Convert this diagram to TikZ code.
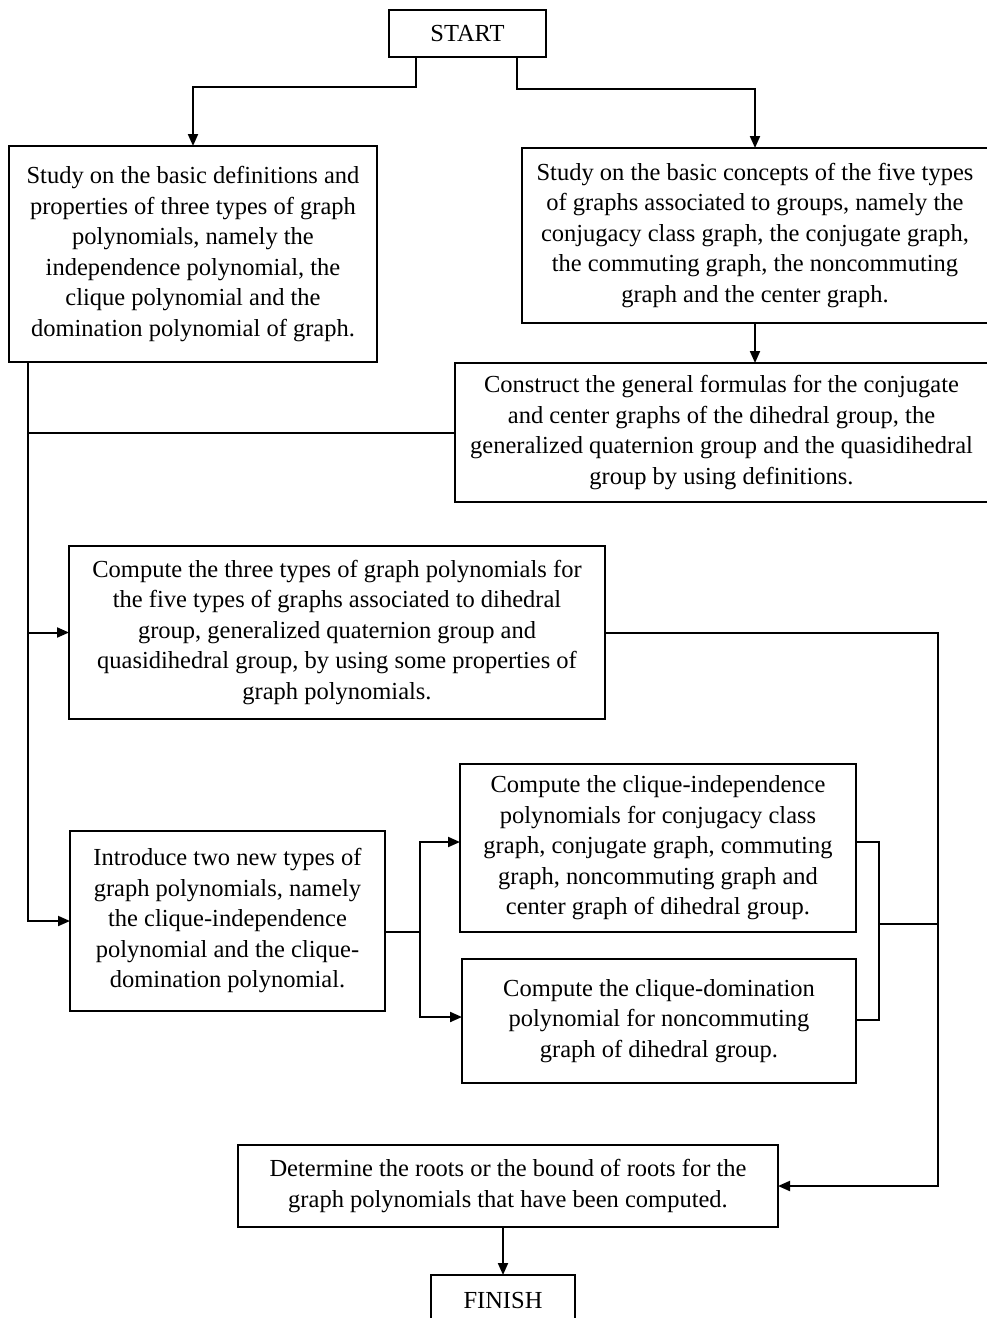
\documentclass[tikz,border=0pt]{standalone}
\usepackage{fontspec}
\setmainfont{Liberation Serif}
\usetikzlibrary{arrows.meta,calc}
\begin{document}
\begin{tikzpicture}[x=1pt,y=-1pt,
  line width=2pt,
  box/.style={draw,rectangle,inner sep=0pt,outer sep=0pt,align=center,
    font=\fontsize{24.5}{30.5}\selectfont},
  arr/.style={-{Triangle[length=12pt,width=10pt]}}]
\useasboundingbox (0,0) rectangle (986,1318);
\node[box,minimum width=157pt,minimum height=47pt] (start) at (467.5,33.5) {START};
\node[box,minimum width=368pt,minimum height=216pt] (b1) at (193,254) {Study on the basic definitions and\\properties of three types of graph\\polynomials, namely the\\independence polynomial, the\\clique polynomial and the\\domination polynomial of graph.};
\node[box,minimum width=466pt,minimum height=175pt] (b2) at (755,235.5) {Study on the basic concepts of the five types\\of graphs associated to groups, namely the\\conjugacy class graph, the conjugate graph,\\the commuting graph, the noncommuting\\graph and the center graph.};
\node[box,minimum width=533pt,minimum height=139pt] (b3) at (721.5,432.5) {Construct the general formulas for the conjugate\\and center graphs of the dihedral group, the\\generalized quaternion group and the quasidihedral\\group by using definitions.};
\node[box,minimum width=536pt,minimum height=173pt] (b4) at (337,632.5) {Compute the three types of graph polynomials for\\the five types of graphs associated to dihedral\\group, generalized quaternion group and\\quasidihedral group, by using some properties of\\graph polynomials.};
\node[box,minimum width=315pt,minimum height=180pt] (b5) at (227.5,921) {Introduce two new types of\\graph polynomials, namely\\the clique-independence\\polynomial and the clique-\\domination polynomial.};
\node[box,minimum width=396pt,minimum height=168pt] (b6) at (658,848) {Compute the clique-independence\\polynomials for conjugacy class\\graph, conjugate graph, commuting\\graph, noncommuting graph and\\center graph of dihedral group.};
\node[box,minimum width=394pt,minimum height=124pt] (b7) at (659,1021) {Compute the clique-domination\\polynomial for noncommuting\\graph of dihedral group.};
\node[box,minimum width=540pt,minimum height=82pt] (b8) at (508,1186) {Determine the roots or the bound of roots for the\\graph polynomials that have been computed.};
\node[box,minimum width=144pt,minimum height=50pt] (fin) at (503,1300) {FINISH};

\coordinate (sp) at ([xshift=19pt]b1.south west);
\coordinate (rs) at (938,631);
\coordinate (j1) at (420,932);
\coordinate (br) at (879,924);

\draw[arr] ([xshift=-52pt]start.south) -- ++(0,30) -| (b1.north);
\draw[arr] ([xshift=49pt]start.south) -- ++(0,32) -| (b2.north);
\draw[arr] (b2.south) -- (b2.south |- b3.north);
\draw[arr] (sp) |- (b5.west);
\draw (b3.west) -- (b3.west -| sp);
\draw[arr] (sp |- b4.west) -- (b4.west);
\draw (b5.east |- j1) -- (j1);
\draw[arr] (j1) |- ([yshift=6pt]b6.west);
\draw[arr] (j1) |- ([yshift=4pt]b7.west);
\draw ([yshift=6pt]b6.east) -| (br) |- ([yshift=1pt]b7.east);
\draw (br) -- (br -| rs);
\draw[arr] (b4.east) -- (b4.east -| rs) |- (b8.east);
\draw[arr] (b8.south -| fin.north) -- (fin.north);
\end{tikzpicture}
\end{document}
